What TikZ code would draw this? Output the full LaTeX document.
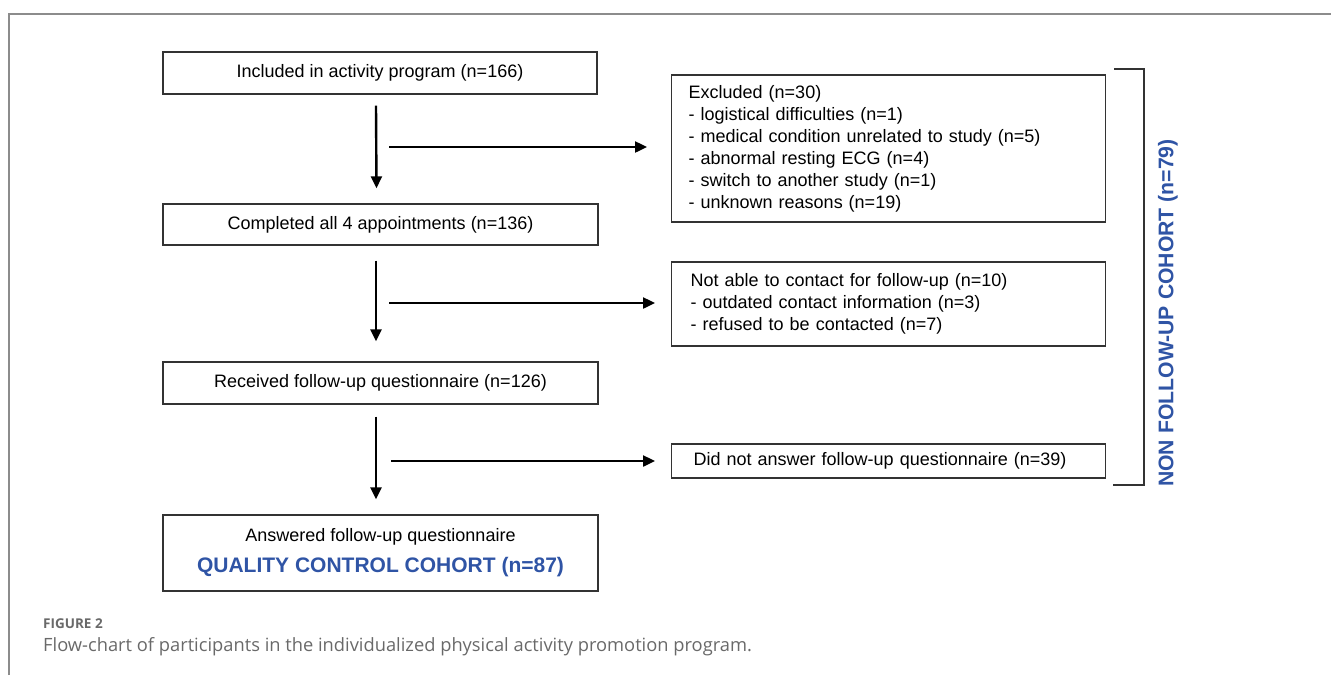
\documentclass[tikz,border=0pt]{standalone}
\usepackage{fontspec}
\setmainfont{Liberation Sans}
\newfontfamily\capfont{Open Sans}
\usetikzlibrary{arrows.meta}
\definecolor{cohortblue}{RGB}{47,84,165}
\definecolor{framegray}{RGB}{140,140,140}
\definecolor{capgray}{RGB}{105,105,105}
\tikzset{
	box/.style={draw=black!80,line width=1.4pt,rectangle,inner sep=0pt,font=\fontsize{18}{22}\selectfont},
	sidebox/.style={box,align=left,anchor=west,inner xsep=17pt,text width=400pt},
	flow/.style={line width=2.4pt,-{Triangle[length=12pt,width=11pt]}}
}
\begin{document}
\begin{tikzpicture}[x=1pt,y=-1pt]
	\useasboundingbox (0,0) rectangle (1331,675);
	%frame
	\draw[framegray,line width=1.6pt] (9,675) -- (9,14) -- (1331,14);
	%main column
	\node[box,minimum width=434pt,minimum height=42pt] (incl) at (380,73) {Included in activity program (n=166)};
	\node[box,minimum width=435pt,minimum height=41pt] (compl) at (380.5,224.5) {Completed all 4 appointments (n=136)};
	\node[box,minimum width=435pt,minimum height=42pt] (recv) at (380.5,383) {Received follow-up questionnaire (n=126)};
	\node[box,minimum width=435pt,minimum height=76pt,align=center] (answ) at (380.5,553)
		{Answered follow-up questionnaire\\[9pt]{\fontsize{21}{24}\selectfont\bfseries\color{cohortblue}QUALITY CONTROL COHORT (n=87)}};
	%side boxes
	\node[sidebox,minimum height=147pt] (excl) at (671,148.5) {Excluded (n=30)\\
		- logistical difficulties (n=1)\\
		- medical condition unrelated to study (n=5)\\
		- abnormal resting ECG (n=4)\\
		- switch to another study (n=1)\\
		- unknown reasons (n=19)};
	\node[sidebox,minimum height=84pt,inner xsep=19pt,text width=396pt] (nocont) at (671,304) {Not able to contact for follow-up (n=10)\\
		- outdated contact information (n=3)\\
		- refused to be contacted (n=7)};
	\node[sidebox,minimum height=34pt,inner xsep=22pt,text width=390pt] (noansw) at (671,461) {Did not answer follow-up questionnaire (n=39)};
	% arrows down
	\draw[flow] ([xshift=-4pt,yshift=-11pt]incl.south) -- ([xshift=-4pt,yshift=15pt]compl.north);
	\draw[flow] ([xshift=-4.5pt,yshift=-15pt]compl.south) -- ([xshift=-4.5pt,yshift=20pt]recv.north);
	\draw[flow] ([xshift=-4.5pt,yshift=-12pt]recv.south) -- ([xshift=-4.5pt,yshift=15pt]answ.north);
	% arrows right
	\coordinate (exa) at (389,147);
	\coordinate (nca) at (389,303);
	\coordinate (naa) at (391,461);
	\draw[flow] (exa) -- ([xshift=-24pt]excl.west |- exa);
	\draw[flow] (nca) -- ([xshift=-16pt]nocont.west |- nca);
	\draw[flow] (naa) -- ([xshift=-16pt]noansw.west |- naa);
	%bracket
	\draw[black!80,line width=1.4pt] (1114,69) -- (1144,69) -- (1144,485) -- (1113,485);
	\node[rotate=90,font=\fontsize{21.2}{24}\selectfont\bfseries,text=cohortblue] (nonfu) at (1168,313) {NON FOLLOW-UP COHORT (n=79)};
	%caption
	\node[anchor=west,font=\fontsize{13.5}{15}\selectfont\capfont\bfseries,text=capgray,inner sep=0pt] (fig) at (43,624) {FIGURE 2};
	\node[anchor=west,font=\fontsize{18.3}{20}\selectfont\capfont,text=capgray,inner sep=0pt] (cap) at (43,647) {Flow-chart of participants in the individualized physical activity promotion program.};
\end{tikzpicture}
\end{document}
